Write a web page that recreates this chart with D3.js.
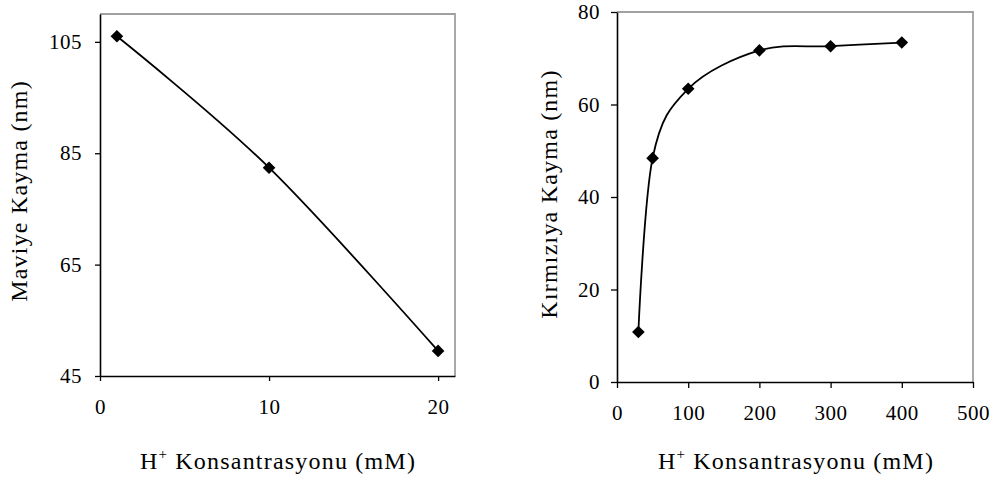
<!DOCTYPE html>
<html>
<head>
<meta charset="utf-8">
<script src="https://cdn.jsdelivr.net/npm/d3@7"></script>
<style>
  html, body { margin: 0; padding: 0; background: #fff; }
  svg { display: block; }
  text { font-family: "Liberation Serif", "Times New Roman", serif; fill: #000; }
</style>
</head>
<body>
<svg id="chart" width="994" height="481"></svg>
<script>
// Blue shift vs. H+ concentration (left panel)
const blueConc = [1, 10, 20];
const blueShift = [106, 82.4, 49.5];
const blueXTicks = [0, 10, 20];
const blueYTicks = [45, 65, 85, 105];

// Red shift vs. H+ concentration (right panel)
const redConc = [30, 50, 100, 200, 300, 400];
const redShift = [10.8, 48.4, 63.4, 71.7, 72.6, 73.4];
const redXTicks = [0, 100, 200, 300, 400, 500];
const redYTicks = [0, 20, 40, 60, 80];

const xTitle = "Konsantrasyonu (mM)";
const blueYTitle = "Maviye Kayma (nm)";
const redYTitle = "Kırmızıya Kayma (nm)";

const svg = d3.select("#chart");

function panel(opts) {
  const { left, right, top, bottom, xDomain, yDomain, xTicks, yTicks, xs, ys,
          yTitle, yTitleX, yTitleY, xTitleX, tickLen, yPad, xPad } = opts;
  const x = d3.scaleLinear().domain(xDomain).range([left, right]);
  const y = d3.scaleLinear().domain(yDomain).range([bottom, top]);
  const g = svg.append("g");

  // plot frame: top and right edges in grey
  g.append("path")
    .attr("d", `M${left},${top}H${right}V${bottom}`)
    .attr("fill", "none").attr("stroke", "#a0a0a0").attr("stroke-width", 1.8);

  const yAxis = g.append("g")
    .attr("transform", `translate(${left},0)`)
    .call(d3.axisLeft(y).tickValues(yTicks).tickSize(tickLen).tickSizeOuter(0).tickPadding(yPad));
  const xAxis = g.append("g")
    .attr("transform", `translate(0,${bottom})`)
    .call(d3.axisBottom(x).tickValues(xTicks).tickSize(tickLen).tickSizeOuter(0).tickPadding(xPad));
  [yAxis, xAxis].forEach(a => {
    a.select(".domain").attr("stroke", "#000").attr("stroke-width", 1.6);
    a.selectAll(".tick line").attr("stroke", "#000").attr("stroke-width", 1.3);
    a.selectAll(".tick text")
      .style("font-family", '"Liberation Serif", "Times New Roman", serif')
      .style("font-size", "21px").style("letter-spacing", "0.5px").attr("fill", "#000");
  });

  const pts = xs.map((v, i) => [v, ys[i]]);
  g.append("path")
    .datum(pts)
    .attr("fill", "none").attr("stroke", "#000").attr("stroke-width", 1.8)
    .attr("d", d3.line().x(d => x(d[0])).y(d => y(d[1])).curve(d3.curveCardinal.tension(0)));

  const diamond = d3.symbol().type(d3.symbolSquare).size(80);
  g.selectAll(".pt").data(pts).enter().append("path")
    .attr("class", "pt")
    .attr("d", diamond)
    .attr("transform", d => `translate(${x(d[0])},${y(d[1])}) rotate(45)`)
    .attr("fill", "#000");

  // axis titles
  g.append("text")
    .attr("transform", `translate(${yTitleX},${yTitleY}) rotate(-90)`)
    .attr("text-anchor", "middle")
    .style("font-size", "24px").style("letter-spacing", "1.2px")
    .text(yTitle);

  const xt = g.append("text")
    .attr("x", xTitleX).attr("y", 469)
    .attr("text-anchor", "middle")
    .style("font-size", "24px").style("letter-spacing", "1.2px");
  xt.append("tspan").text("H");
  xt.append("tspan").attr("dy", -10).style("font-size", "15px").text("+");
  xt.append("tspan").attr("dy", 10).text(" " + xTitle);
}

panel({
  left: 100, right: 455, top: 14, bottom: 376,
  xDomain: [0, 21], yDomain: [45, 110],
  xTicks: blueXTicks, yTicks: blueYTicks, xs: blueConc, ys: blueShift,
  yTitle: blueYTitle, yTitleX: 27, yTitleY: 191, xTitleX: 278,
  tickLen: 5, yPad: 13, xPad: 18
});

panel({
  left: 617, right: 973, top: 12, bottom: 382,
  xDomain: [0, 500], yDomain: [0, 80],
  xTicks: redXTicks, yTicks: redYTicks, xs: redConc, ys: redShift,
  yTitle: redYTitle, yTitleX: 557, yTitleY: 194, xTitleX: 796,
  tickLen: 6, yPad: 11, xPad: 17
});
</script>
</body>
</html>
